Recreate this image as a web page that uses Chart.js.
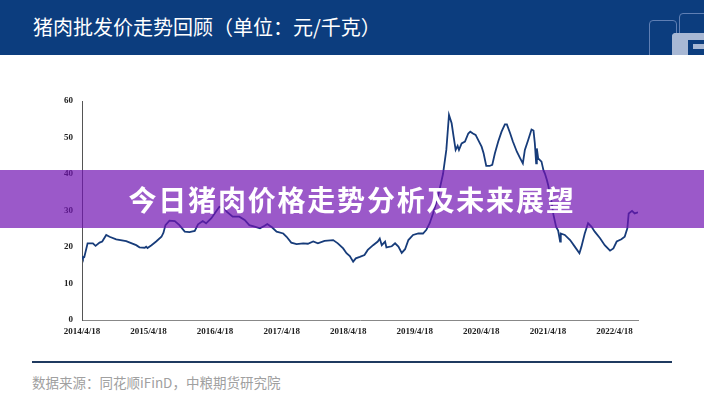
<!DOCTYPE html>
<html>
<head>
<meta charset="utf-8">
<script src="https://cdn.jsdelivr.net/npm/chart.js@4"></script>
<style>
    body { margin: 0; width: 704px; height: 400px; background: #fff; position: relative; overflow: hidden; font-family: "Noto Sans CJK SC", sans-serif; }
    .header { position: absolute; left: 0; top: 0; width: 704px; height: 55px; background: #0c3d7e; overflow: hidden; }
    .header h1 { position: absolute; left: 33px; top: 13px; margin: 0; font-size: 20px; line-height: 28px; font-weight: 400; color: #fff; }
    .logo-box { position: absolute; border: 1px solid #5f7fb4; border-radius: 4px; }
    .logo-fill { position: absolute; background: #a8b8d4; }
    .chart-wrap { position: absolute; left: 0; top: 60px; width: 704px; height: 290px; }
    .banner { position: absolute; left: 0; top: 170px; width: 704px; height: 58px; background: rgba(112, 18, 178, 0.7); color: #fff; font-size: 28px; font-weight: 700; letter-spacing: 1.8px; text-align: center; line-height: 58px; }
    .rule { position: absolute; left: 32px; top: 361px; width: 640px; height: 2px; background: #1f3a60; }
    .source { position: absolute; left: 32px; top: 372px; font-size: 13.5px; color: #a0a0a0; }
</style>
</head>
<body>
<div class="header">
    <h1>猪肉批发价走势回顾（单位：元/千克）</h1>
    <div class="logo-box" style="left:649px;top:20px;width:26px;height:40px;"></div>
    <div class="logo-box" style="left:679px;top:13px;width:30px;height:24px;"></div>
    <div class="logo-fill" style="left:672px;top:33px;width:40px;height:7px;border-radius:4px 0 0 0;"></div>
    <div class="logo-fill" style="left:672px;top:33px;width:16px;height:22px;border-radius:4px 0 0 0;"></div>
    <div class="logo-fill" style="left:693px;top:44px;width:14px;height:5px;"></div>
</div>
<div class="chart-wrap"><canvas id="priceChart" width="704" height="290"></canvas></div>
<div class="banner">今日猪肉价格走势分析及未来展望</div>
<div class="rule"></div>
<div class="source">数据来源：同花顺iFinD，中粮期货研究院</div>

<script>
// Pork wholesale price, yuan/kg (dates as decimal years)
const times = [
    2014.30, 2014.31, 2014.33, 2014.38, 2014.46, 2014.50, 2014.56, 2014.60, 2014.66, 2014.71,
    2014.81, 2014.96, 2015.11, 2015.16, 2015.24, 2015.26, 2015.28, 2015.34, 2015.41, 2015.49,
    2015.52, 2015.55, 2015.61, 2015.69, 2015.76, 2015.84, 2015.91, 2015.99, 2016.04, 2016.11,
    2016.16, 2016.24, 2016.31, 2016.36, 2016.44, 2016.47, 2016.56, 2016.66, 2016.74, 2016.81,
    2016.89, 2016.97, 2017.04, 2017.08, 2017.15, 2017.22, 2017.32, 2017.37, 2017.44, 2017.52,
    2017.62, 2017.69, 2017.77, 2017.84, 2017.94, 2018.07, 2018.14, 2018.22, 2018.27, 2018.32,
    2018.37, 2018.41, 2018.47, 2018.54, 2018.59, 2018.67, 2018.74, 2018.77, 2018.80, 2018.85,
    2018.87, 2018.95, 2019.00, 2019.05, 2019.10, 2019.15, 2019.20, 2019.27, 2019.35, 2019.42,
    2019.47, 2019.52, 2019.57, 2019.64, 2019.69, 2019.72, 2019.77, 2019.81, 2019.85, 2019.88,
    2019.91, 2019.94, 2019.96, 2020.00, 2020.05, 2020.10, 2020.13, 2020.17, 2020.21, 2020.25,
    2020.30, 2020.33, 2020.37, 2020.42, 2020.46, 2020.50, 2020.55, 2020.60, 2020.65, 2020.68,
    2020.73, 2020.77, 2020.83, 2020.88, 2020.92, 2020.95, 2021.00, 2021.05, 2021.08, 2021.10,
    2021.12, 2021.13, 2021.15, 2021.20, 2021.23, 2021.25, 2021.28, 2021.30, 2021.35, 2021.38,
    2021.42, 2021.45, 2021.48, 2021.49, 2021.55, 2021.63, 2021.70, 2021.77, 2021.80, 2021.85,
    2021.90, 2021.95, 2022.00, 2022.08, 2022.15, 2022.23, 2022.28, 2022.33, 2022.40, 2022.45,
    2022.49, 2022.51, 2022.56, 2022.60, 2022.65
];
const prices = [
    17.5, 17.0, 17.2, 21.0, 21.0, 20.3, 21.2, 21.5, 23.3, 22.8,
    22.1, 21.6, 20.5, 19.9, 19.8, 20.1, 19.7, 20.5, 21.5, 22.8,
    23.9, 26.0, 27.2, 27.1, 26.0, 24.2, 24.1, 24.4, 26.2, 27.1,
    26.5, 27.9, 29.7, 31.0, 30.6, 29.7, 28.3, 28.3, 27.4, 26.0,
    25.6, 25.1, 25.8, 26.3, 25.4, 24.2, 23.7, 22.8, 21.2, 20.8,
    21.0, 20.9, 21.5, 21.0, 21.7, 21.9, 21.0, 19.6, 18.3, 17.5,
    16.0, 16.9, 17.3, 17.8, 19.2, 20.5, 21.5, 22.3, 20.5, 21.5,
    19.9, 20.2, 21.0, 20.1, 18.4, 19.4, 21.9, 23.3, 23.7, 23.7,
    24.7, 26.5, 29.2, 33.5, 37.5, 40.0, 46.6, 56.2, 53.9, 50.2,
    46.6, 47.7, 46.6, 48.4, 48.9, 51.1, 51.6, 51.1, 50.7, 49.3,
    47.5, 45.7, 42.2, 42.2, 42.5, 45.7, 48.9, 51.6, 53.6, 53.6,
    51.1, 48.9, 46.1, 44.3, 42.9, 46.6, 49.3, 52.2, 51.9, 48.4,
    42.9, 47.0, 44.3, 43.4, 41.0, 40.2, 38.4, 37.0, 32.4, 28.8,
    25.5, 24.5, 21.5, 23.7, 23.3, 21.9, 20.1, 18.3, 20.1, 23.7,
    26.5, 25.6, 24.2, 22.4, 20.5, 19.0, 19.6, 21.5, 22.1, 22.8,
    25.1, 29.2, 29.9, 29.2, 29.5
];

// x ticks: one per year starting 2014/4/18
const tickStart = 2014.296;
const tickLabels = ["2014/4/18", "2015/4/18", "2016/4/18", "2017/4/18", "2018/4/18",
    "2019/4/18", "2020/4/18", "2021/4/18", "2022/4/18"];

const tickFont = { family: "'Liberation Serif', serif", size: 9, weight: "bold" };

new Chart(document.getElementById("priceChart"), {
    type: "line",
    data: {
        datasets: [{
            data: times.map((t, i) => ({ x: t, y: prices[i] })),
            borderColor: "#173c7a",
            borderWidth: 1.8,
            pointRadius: 0,
            tension: 0,
            fill: false
        }]
    },
    options: {
        responsive: false,
        animation: false,
        devicePixelRatio: 1,
        layout: { padding: { top: 41, right: 66, bottom: 0, left: 0 } },
        plugins: { legend: { display: false }, tooltip: { enabled: false } },
        scales: {
            x: {
                type: "linear",
                min: tickStart,
                max: times[times.length - 1],
                afterBuildTicks: (scale) => {
                    scale.ticks = tickLabels.map((_, i) => ({ value: tickStart + i }));
                },
                afterFit: (scale) => { scale.height = 30; },
                grid: { display: false, drawTicks: false },
                border: { display: true, color: "#888", width: 1 },
                ticks: {
                    autoSkip: false,
                    maxRotation: 0,
                    padding: 6,
                    color: "#222",
                    font: tickFont,
                    callback: (v, i) => tickLabels[i]
                }
            },
            y: {
                min: 0,
                max: 60,
                afterFit: (scale) => { scale.width = 82; },
                grid: { display: false, drawTicks: false },
                border: { display: true, color: "#555", width: 1 },
                ticks: {
                    stepSize: 10,
                    padding: 9,
                    color: "#222",
                    font: tickFont
                }
            }
        }
    }
});
</script>
</body>
</html>
